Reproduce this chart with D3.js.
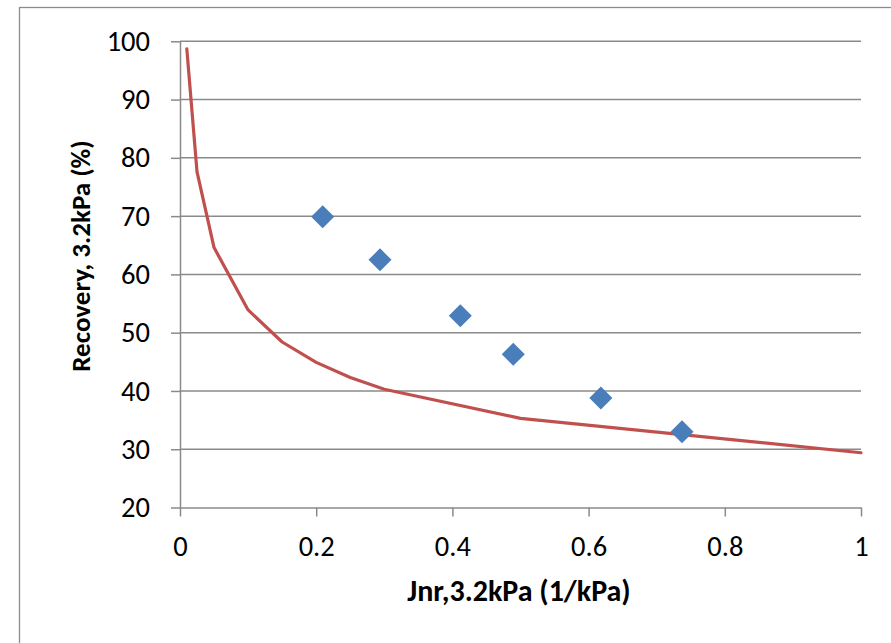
<!DOCTYPE html>
<html>
<head>
<meta charset="utf-8">
<script src="https://cdn.jsdelivr.net/npm/d3@7"></script>
<style>
  html, body { margin: 0; padding: 0; background: #fff; }
  svg { display: block; font-family: Carlito, Calibri, Lato, "Open Sans", sans-serif; }
</style>
</head>
<body>
<svg id="chart" width="891" height="643"></svg>
<script>
// Measured samples (diamonds)
const jnrMeasured = [0.2095, 0.2937, 0.4116, 0.4894, 0.618, 0.7372];
const recMeasured = [69.9, 62.5, 52.9, 46.3, 38.8, 33.0];

// Reference curve (line)
const jnrCurve = [0.01, 0.025, 0.05, 0.1, 0.15, 0.2, 0.25, 0.3, 0.5, 1.0];
const recCurve = [98.7, 77.6, 64.6, 53.9, 48.4, 44.9, 42.3, 40.3, 35.3, 29.4];

const xTicks = [0, 0.2, 0.4, 0.6, 0.8, 1];
const yTicks = [20, 30, 40, 50, 60, 70, 80, 90, 100];

const svg = d3.select("#chart");
const plotLeft = 180, plotRight = 861, plotTop = 41.3, plotBottom = 507.5;
const tickFont = "Carlito, Calibri, Lato, sans-serif";

const x = d3.scaleLinear().domain([0, 1]).range([plotLeft, plotRight]);
const y = d3.scaleLinear().domain([20, 100]).range([plotBottom, plotTop]);

// outer chart frame
svg.append("rect")
  .attr("x", 19.5).attr("y", 7.5).attr("width", 900).attr("height", 700)
  .attr("fill", "none").attr("stroke", "#8c8c8c").attr("stroke-width", 1.3);

// horizontal gridlines
svg.append("g").selectAll("line").data(yTicks.filter(d => d > 20)).join("line")
  .attr("x1", plotLeft).attr("x2", plotRight)
  .attr("y1", d => y(d)).attr("y2", d => y(d))
  .attr("stroke", "#8a8a8a").attr("stroke-width", 1.5);

// y axis
const yAxis = svg.append("g").attr("transform", `translate(${plotLeft},0)`)
  .call(d3.axisLeft(y).tickValues(yTicks).tickSize(9).tickSizeOuter(0).tickPadding(21));
yAxis.attr("font-size", null).attr("font-family", null);
yAxis.select(".domain").attr("stroke", "#8a8a8a").attr("stroke-width", 1.5);
yAxis.selectAll(".tick line").attr("stroke", "#8a8a8a").attr("stroke-width", 1.5);
yAxis.selectAll("text").style("font-size", "28.5px").attr("fill", "#000")
  .style("font-family", tickFont);

// x axis
const xAxis = svg.append("g").attr("transform", `translate(0,${plotBottom})`)
  .call(d3.axisBottom(x).tickValues(xTicks).tickSize(9).tickSizeOuter(0).tickPadding(19)
    .tickFormat(d3.format("~g")));
xAxis.attr("font-size", null).attr("font-family", null);
xAxis.select(".domain").attr("stroke", "#8a8a8a").attr("stroke-width", 1.5);
xAxis.selectAll(".tick line").attr("stroke", "#8a8a8a").attr("stroke-width", 1.5);
xAxis.selectAll("text").style("font-size", "28.5px").attr("fill", "#000")
  .style("font-family", tickFont);

// curve
const curve = jnrCurve.map((v, i) => [v, recCurve[i]]);
svg.append("path").datum(curve)
  .attr("d", d3.line().x(d => x(d[0])).y(d => y(d[1])))
  .attr("fill", "none").attr("stroke", "#c0504d").attr("stroke-width", 3.2)
  .attr("stroke-linejoin", "round").attr("stroke-linecap", "round");

// diamonds
const pts = jnrMeasured.map((v, i) => [v, recMeasured[i]]);
svg.append("g").selectAll("path").data(pts).join("path")
  .attr("d", d3.symbol().type(d3.symbolSquare).size(265))
  .attr("transform", d => `translate(${x(d[0])},${y(d[1])}) rotate(45)`)
  .attr("fill", "#4a7ebb");

// axis titles
svg.append("text")
  .attr("x", 519).attr("y", 601).attr("text-anchor", "middle")
  .style("font-size", "30px").attr("font-weight", "bold")
  .text("Jnr,3.2kPa (1/kPa)");

svg.append("text")
  .attr("transform", "translate(90,256) rotate(-90)").attr("text-anchor", "middle")
  .style("font-size", "27px").attr("font-weight", "bold")
  .text("Recovery, 3.2kPa (%)");
</script>
</body>
</html>
